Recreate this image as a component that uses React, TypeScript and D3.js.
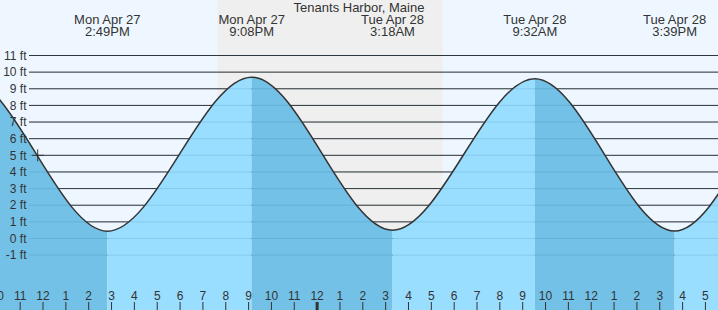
import React from "react";
import * as d3 from "d3";

const W = 718;
const H = 310;

const title = "Tenants Harbor, Maine";
// tide extremes (local time) and heights in ft
const tideTimes = [
  "2020-04-27 02:25",
  "2020-04-27 08:36",
  "2020-04-27 14:49",
  "2020-04-27 21:08",
  "2020-04-28 03:18",
  "2020-04-28 09:32",
  "2020-04-28 15:39",
  "2020-04-28 21:42",
  "2020-04-29 04:00",
];
const tideHeights = [0.6, 9.7, 0.44, 9.7, 0.5, 9.6, 0.45, 9.8, 0.4];
const labelledIdx = [2, 3, 4, 5, 6];

const domainStart = "2020-04-27 10:07";
const domainEnd = "2020-04-28 17:33";
const sunset = "2020-04-27 19:38";
const sunrise = "2020-04-28 05:30";
const nowTime = "2020-04-27 11:46";
const nowHeight = 5.0;

const ftTicks = [-1, 0, 1, 2, 3, 4, 5, 6, 7, 8, 9, 10, 11];

const parse = d3.timeParse("%Y-%m-%d %H:%M");
const fmtDay = d3.timeFormat("%a %b %-d");
const fmtTime = d3.timeFormat("%-I:%M%p");
const fmtHour = d3.timeFormat("%-I");

const FONT = "'Liberation Sans', Arial, sans-serif";
const TEXT = "#333333";

export default function App() {
  const x = d3
    .scaleTime()
    .domain([parse(domainStart)!, parse(domainEnd)!])
    .range([0, W]);
  const y = d3.scaleLinear().domain([0, 11]).range([238.5, 55.5]);

  const pts = tideTimes.map((t, i) => ({ t: parse(t)!, h: tideHeights[i] }));
  const area = d3
    .area<{ t: Date; h: number }>()
    .x((d) => x(d.t))
    .y0(H)
    .y1((d) => y(d.h))
    .curve(d3.curveMonotoneX);
  const line = d3
    .line<{ t: Date; h: number }>()
    .x((d) => x(d.t))
    .y((d) => y(d.h))
    .curve(d3.curveMonotoneX);

  const areaPath = area(pts) || "";
  const linePath = line(pts) || "";

  const segs = pts.slice(0, -1).map((p, i) => ({
    x0: x(p.t),
    x1: x(pts[i + 1].t),
    falling: pts[i + 1].h < p.h,
  }));

  const hourTicks = d3.timeHour.range(
    d3.timeHour.offset(x.domain()[0], -1),
    d3.timeHour.offset(x.domain()[1], 1)
  );

  const nx = x(parse(nowTime)!);
  const ny = y(nowHeight);

  return (
    <svg
      width={W}
      height={H}
      style={{ position: "absolute", left: 0, top: 0, display: "block" }}
      fontFamily={FONT}
    >
      <defs>
        {segs.map((s, i) => (
          <clipPath id={`seg${i}`} key={i}>
            <rect x={s.x0} y={0} width={s.x1 - s.x0} height={H} />
          </clipPath>
        ))}
      </defs>
      <rect x={0} y={0} width={W} height={H} fill="#EEF7FF" />
      <rect
        x={x(parse(sunset)!)}
        y={0}
        width={x(parse(sunrise)!) - x(parse(sunset)!)}
        height={H}
        fill="#EFEFEF"
      />
      {ftTicks.map((f) => (
        <line
          key={f}
          x1={29}
          x2={W}
          y1={y(f)}
          y2={y(f)}
          stroke="#333"
          strokeWidth={1}
        />
      ))}
      {segs.map((s, i) => (
        <path
          key={i}
          d={areaPath}
          clipPath={`url(#seg${i})`}
          fill={s.falling ? "#73C1E6" : "#99DDFF"}
        />
      ))}
      {ftTicks.map((f) => (
        <line
          key={"w" + f}
          x1={29}
          x2={W}
          y1={y(f)}
          y2={y(f)}
          stroke="#0a4a78"
          strokeOpacity={0.13}
          strokeWidth={1}
        />
      ))}
      <path d={linePath} fill="none" stroke="#333" strokeWidth={1.5} />
      <g stroke="#333" strokeWidth={1}>
        <line x1={nx - 6} x2={nx + 6} y1={ny} y2={ny} />
        <line x1={nx} x2={nx} y1={ny - 6} y2={ny + 6} />
      </g>
      {ftTicks.map((f) => (
        <text
          key={"l" + f}
          x={26.5}
          y={y(f)}
          dy="0.35em"
          textAnchor="end"
          fontSize={12}
          fill={TEXT}
        >
          {`${f} ft`}
        </text>
      ))}
      {hourTicks.map((t, i) => {
        const isMid = t.getHours() === 0;
        return (
          <g key={"h" + i}>
            <line
              x1={x(t)}
              x2={x(t)}
              y1={302}
              y2={H}
              stroke="#333"
              strokeWidth={isMid ? 3 : 1}
            />
            <text
              x={x(t)}
              y={300}
              textAnchor="middle"
              fontSize={12}
              fill={TEXT}
            >
              {fmtHour(t)}
            </text>
          </g>
        );
      })}
      <text x={W / 2} y={12} textAnchor="middle" fontSize={13} fill={TEXT}>
        {title}
      </text>
      {labelledIdx.map((i) => {
        const p = pts[i];
        return (
          <g key={"e" + i}>
            <text
              x={x(p.t)}
              y={24}
              textAnchor="middle"
              fontSize={13}
              fill={TEXT}
            >
              {fmtDay(p.t)}
            </text>
            <text
              x={x(p.t)}
              y={36}
              textAnchor="middle"
              fontSize={13}
              fill={TEXT}
            >
              {fmtTime(p.t)}
            </text>
          </g>
        );
      })}
    </svg>
  );
}
